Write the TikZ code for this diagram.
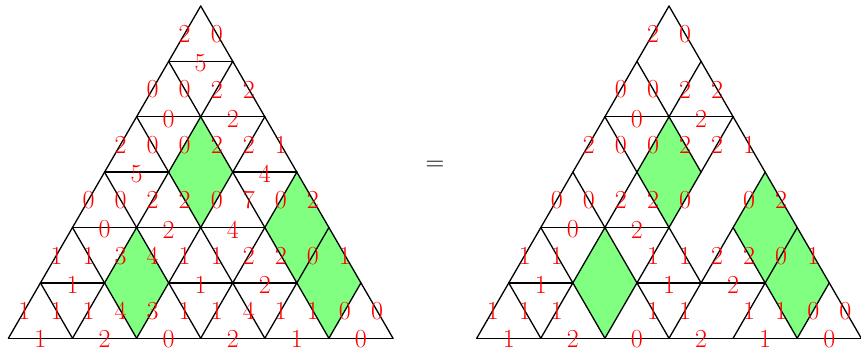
\documentclass[tikz,border=0pt]{standalone}
\usepackage{fontspec}
\usetikzlibrary{calc}
\tikzset{
  edge/.style={line width=1.3pt, line cap=round},
  lab/.style={text=red, font=\fontsize{26}{26}\selectfont, inner sep=0pt},
  eqsign/.style={text=black, font=\fontsize{26}{26}\selectfont, inner sep=0pt, anchor=base},
  rhomb/.style={fill=green!50}
}
% #1 prefix, #2 slanted edge labels per row, #3 horizontal edge labels per row
% digit = edge with label, x = edge without label, - = no edge
\newcommand\mytri[3]{%
  \foreach \row [count=\r from 0] in {#2} {
    \pgfmathtruncatemacro\rn{\r+1}
    \foreach \lab [count=\k from 0] in \row {
      \pgfmathtruncatemacro\j{floor(\k/2)}
      \pgfmathtruncatemacro\jb{\j+mod(\k,2)}
      \if-\lab\else
        \draw[edge] (#1-\r-\j) -- (#1-\rn-\jb);
        \if x\lab\else
          \node[lab] (#1-s-\r-\k) at ($(#1-\r-\j)!0.5!(#1-\rn-\jb)+(0,0.5)$) {\lab};
        \fi
      \fi
    }
  }
  \foreach \row [count=\r from 1] in {#3} {
    \pgfmathsetmacro\dy{\r==6 ? 0.6 : 2}
    \foreach \lab [count=\j from 0] in \row {
      \pgfmathtruncatemacro\jn{\j+1}
      \if-\lab\else
        \draw[edge] (#1-\r-\j) -- (#1-\r-\jn);
        \if x\lab\else
          \node[lab] (#1-h-\r-\j) at ($(#1-\r-\j)!0.5!(#1-\r-\jn)+(0,\dy)$) {\lab};
        \fi
      \fi
    }
  }
}
\begin{document}
\begin{tikzpicture}[x=1pt,y=-1pt]
\useasboundingbox (0,0) rectangle (861,350);
\foreach \P/\X in {L/200.7,R/669.0}{
  \foreach \r in {0,...,6}{
    \foreach \j in {0,...,\r}{
      \coordinate (\P-\r-\j) at ({\X+(2*\j-\r)*32.05},{6+\r*55.38});
    }
  }
}
\foreach \P in {L,R}{
  \fill[rhomb] (\P-2-1) -- (\P-3-1) -- (\P-4-2) -- (\P-3-2) -- cycle;
  \fill[rhomb] (\P-4-1) -- (\P-5-1) -- (\P-6-2) -- (\P-5-2) -- cycle;
  \fill[rhomb] (\P-3-3) -- (\P-4-3) -- (\P-6-5) -- (\P-5-5) -- cycle;
}
\mytri{L}{{2,0},{0,0,2,2},{2,0,0,2,2,1},{0,0,2,2,0,7,0,2},{1,1,3,4,1,1,2,2,0,1},{1,1,1,4,3,1,1,4,1,1,0,0}}%
       {{5},{0,2},{5,-,4},{0,2,4,-},{1,-,1,2,-},{1,2,0,2,1,0}}
\mytri{R}{{2,0},{0,0,2,2},{2,0,0,2,2,1},{0,0,2,2,0,-,0,2},{1,1,x,x,1,1,2,2,0,1},{1,1,1,x,x,1,1,-,1,1,0,0}}%
       {{-},{0,2},{-,-,-},{0,2,-,-},{1,-,1,2,-},{1,2,0,2,1,0}}
\node[eqsign] (eq) at (435,170) {=};
\end{tikzpicture}
\end{document}
